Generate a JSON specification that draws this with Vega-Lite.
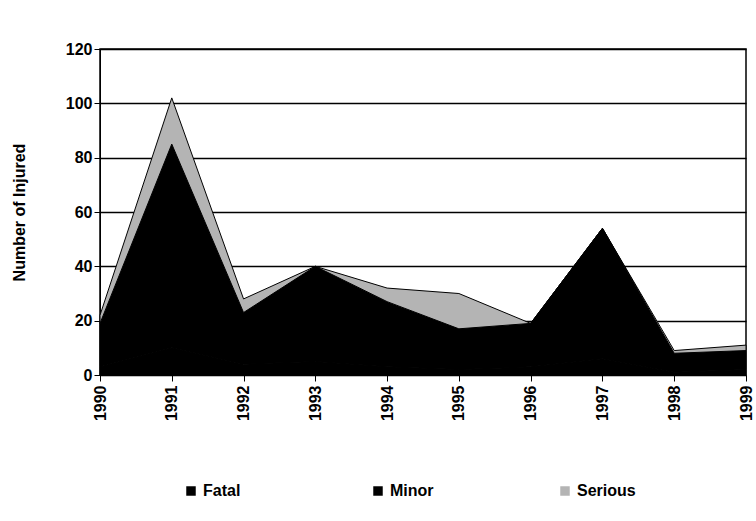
{
  "$schema": "https://vega.github.io/schema/vega-lite/v6.json",
  "autosize": "none",
  "width": 646,
  "height": 326,
  "padding": {"left": 100, "top": 49, "right": 10, "bottom": 146},
  "background": "white",
  "data": {"values": [
    {"year": "1990", "type": "Fatal", "n": 3},
    {"year": "1991", "type": "Fatal", "n": 10},
    {"year": "1992", "type": "Fatal", "n": 4},
    {"year": "1993", "type": "Fatal", "n": 5},
    {"year": "1994", "type": "Fatal", "n": 3},
    {"year": "1995", "type": "Fatal", "n": 2},
    {"year": "1996", "type": "Fatal", "n": 3},
    {"year": "1997", "type": "Fatal", "n": 6},
    {"year": "1998", "type": "Fatal", "n": 1},
    {"year": "1999", "type": "Fatal", "n": 2},
    {"year": "1990", "type": "Minor", "n": 16},
    {"year": "1991", "type": "Minor", "n": 75},
    {"year": "1992", "type": "Minor", "n": 19},
    {"year": "1993", "type": "Minor", "n": 35},
    {"year": "1994", "type": "Minor", "n": 24},
    {"year": "1995", "type": "Minor", "n": 15},
    {"year": "1996", "type": "Minor", "n": 16},
    {"year": "1997", "type": "Minor", "n": 48},
    {"year": "1998", "type": "Minor", "n": 7},
    {"year": "1999", "type": "Minor", "n": 7},
    {"year": "1990", "type": "Serious", "n": 3},
    {"year": "1991", "type": "Serious", "n": 17},
    {"year": "1992", "type": "Serious", "n": 5},
    {"year": "1993", "type": "Serious", "n": 0},
    {"year": "1994", "type": "Serious", "n": 5},
    {"year": "1995", "type": "Serious", "n": 13},
    {"year": "1996", "type": "Serious", "n": 0},
    {"year": "1997", "type": "Serious", "n": 0},
    {"year": "1998", "type": "Serious", "n": 1},
    {"year": "1999", "type": "Serious", "n": 2}
  ]},
  "config": {
    "font": "Liberation Sans",
    "view": {"stroke": "black", "strokeWidth": 1.5}
  },
  "mark": {"type": "area", "stroke": "black", "strokeWidth": 1},
  "encoding": {
    "x": {
      "field": "year", "type": "ordinal",
      "scale": {"type": "point", "padding": 0},
      "axis": {
        "title": null, "labelAngle": -90, "labelFontSize": 16, "labelFontWeight": "bold",
        "labelColor": "black", "domainColor": "black", "tickColor": "black",
        "tickSize": 6, "labelPadding": 4, "grid": false
      }
    },
    "y": {
      "field": "n", "type": "quantitative", "stack": "zero",
      "scale": {"domain": [0, 120], "nice": false},
      "axis": {
        "title": "Number of Injured", "titleFontSize": 16, "titleFontWeight": "bold",
        "titleColor": "black", "titlePadding": 38,
        "values": [0, 20, 40, 60, 80, 100, 120],
        "labelFontSize": 16, "labelFontWeight": "bold", "labelColor": "black",
        "domainColor": "black", "tickColor": "black", "tickSize": 6,
        "grid": true, "gridColor": "black", "gridWidth": 1.5, "gridOpacity": 1
      }
    },
    "color": {
      "field": "type", "type": "nominal",
      "scale": {"domain": ["Fatal", "Minor", "Serious"], "range": ["#000000", "#000000", "#b4b4b4"]},
      "legend": {
        "title": null, "orient": "none", "legendX": 83, "legendY": 434,
        "direction": "horizontal", "columns": 3, "gridAlign": "all",
        "columnPadding": 108, "symbolType": "square", "symbolSize": 90,
        "symbolStrokeWidth": 0, "labelFontSize": 16, "labelFontWeight": "bold",
        "labelColor": "black", "symbolOpacity": 1
      }
    },
    "order": {"field": "type", "sort": "ascending"}
  }
}
